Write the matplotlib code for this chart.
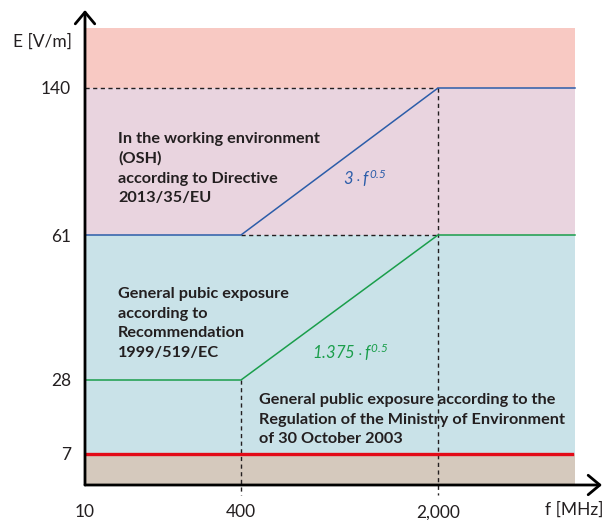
import numpy as np
import matplotlib.pyplot as plt

plt.rcParams["font.family"] = ["Lato", "DejaVu Sans"]
plt.rcParams["mathtext.fontset"] = "custom"
plt.rcParams["mathtext.rm"] = "Lato:italic"
plt.rcParams["mathtext.it"] = "Lato:italic"

# ── Data ─────────────────────────────────────────────────────────────────────
f_ticks = [10, 400, 2000]              # MHz
f_tick_labels = ["10", "400", "2,000"]
e_ticks = [7, 28, 61, 140]             # V/m
e_tick_labels = ["7", "28", "61", "140"]

f_end = 3000                           # right edge of shaded area (schematic)
e_top = 200                            # top of shaded area (schematic)

osh_f = [10, 400, 2000, f_end]         # 3 * f^0.5 limit (OSH directive)
osh_e = [61, 61, 140, 140]
pub_f = [10, 400, 2000, f_end]         # 1.375 * f^0.5 limit (recommendation)
pub_e = [28, 28, 61, 61]
reg_f = [10, 2975]                     # national regulation
reg_e = [7, 7]

band_lo = [0, 7, 61, 140]
band_hi = [7, 61, 140, e_top]

# ── Colours ──────────────────────────────────────────────────────────────────
BAND_COLORS = ["#D5C9BD", "#C9E2E8", "#E9D4DF", "#F8C9C3"]
BLUE = "#2C5DA9"
GREEN = "#1A9E4B"
RED = "#E30A17"
DARK = "#231F20"

# ── Schematic (non-linear) scales ────────────────────────────────────────────
x_knots = [10, 400, 2000, 3000, 3330]
x_pos = [0, 156, 353, 490, 517]
y_knots = [-8, 0, 7, 28, 61, 140, 200, 228]
y_pos = [-10, 0, 31, 105, 250, 397, 457, 475]


def fx(v):
    return np.interp(v, x_knots, x_pos)


def fx_inv(v):
    return np.interp(v, x_pos, x_knots)


def fy(v):
    return np.interp(v, y_knots, y_pos)


def fy_inv(v):
    return np.interp(v, y_pos, y_knots)


fig = plt.figure(figsize=(6.1, 5.2), dpi=100)
ax = fig.add_axes([85 / 610, 35 / 520, 517 / 610, 475 / 520])
ax.set_xscale("function", functions=(fx, fx_inv))
ax.set_yscale("function", functions=(fy, fy_inv))
ax.set_xlim(10, 3330)
ax.set_ylim(0, 228)

# shaded bands
for lo, hi, c in zip(band_lo, band_hi, BAND_COLORS):
    ax.fill_between([10, f_end], lo, hi, color=c, lw=0, zorder=1)

# dashed guides (drawn over the text, as in the original)
guide = dict(color=DARK, lw=1.0, ls=(0, (3, 2.5)), zorder=4, clip_on=False)
ax.plot([10, 2000], [140, 140], **guide)
ax.plot([400, 2000], [61, 61], **guide)
ax.plot([2000, 2000], [140, -8], **guide)
ax.plot([400, 400], [28, -8], **guide)

# limit lines
ax.plot(osh_f, osh_e, color=BLUE, lw=1.1, zorder=5)
ax.plot(pub_f, pub_e, color=GREEN, lw=1.1, zorder=5)
ax.plot(reg_f, reg_e, color=RED, lw=2.4, zorder=5)

# axes with arrows
for spine in ax.spines.values():
    spine.set_visible(False)
arrow = dict(arrowstyle="->,head_length=0.6,head_width=0.5", lw=2.0,
             color="black", shrinkA=0, shrinkB=0, mutation_scale=14)
ax.annotate("", xy=(0, 1), xytext=(0, 0), xycoords="axes fraction",
            arrowprops=arrow, zorder=6)
ax.annotate("", xy=(1, 0), xytext=(0, 0), xycoords="axes fraction",
            arrowprops=arrow, zorder=6)

ax.set_xticks(f_ticks, f_tick_labels)
ax.set_yticks(e_ticks, e_tick_labels)
ax.minorticks_off()
ax.tick_params(axis="x", length=0, pad=14, labelsize=12.5, colors=DARK)
ax.tick_params(axis="y", length=0, pad=10, labelsize=12.5, colors=DARK)

ax.text(-0.025, 0.933, "E [V/m]", transform=ax.transAxes, ha="right",
        va="center", fontsize=12.5, color=DARK)
ax.text(1.002, -0.053, "f [MHz]", transform=ax.transAxes, ha="right",
        va="center", fontsize=12.5, color=DARK)

# region descriptions
body = dict(transform=ax.transAxes, ha="left", va="top", fontsize=11.7,
            fontweight="bold", color=DARK, linespacing=1.52, zorder=3)
ax.text(0.064, 0.744,
        "In the working environment\n(OSH)\naccording to Directive\n2013/35/EU",
        **body)
ax.text(0.064, 0.417,
        "General pubic exposure\naccording to\nRecommendation\n1999/519/EC",
        **body)
ax.text(0.337, 0.194,
        "General public exposure according to the\n"
        "Regulation of the Ministry of Environment\nof 30 October 2003",
        **body)

ax.text(0.542, 0.646, r"$3\cdot f^{0.5}$", transform=ax.transAxes,
        ha="center", va="center", fontsize=12, color=BLUE)
ax.text(0.513, 0.28, r"$1.375\cdot f^{0.5}$", transform=ax.transAxes,
        ha="center", va="center", fontsize=12, color=GREEN)

fig.savefig("out.png", dpi=100)
